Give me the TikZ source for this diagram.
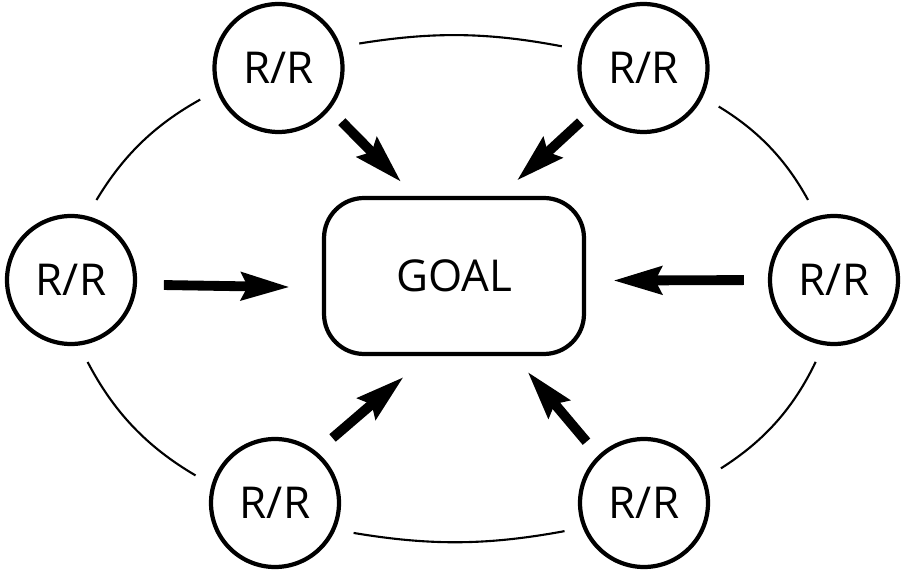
\documentclass[tikz,border=0pt]{standalone}
\usepackage{fontspec}
\setmainfont{Open Sans}
\usepackage{tikz}
\usetikzlibrary{arrows.meta}
\tikzstyle{member} = [circle, minimum size=2.56cm, inner sep=0pt, line width=2.4pt, draw=black, font=\fontsize{25}{30}\selectfont]
\tikzstyle{goalbox} = [rectangle, rounded corners=0.8cm, minimum width=5.2cm, minimum height=3.12cm, line width=2.4pt, text centered, draw=black, font=\fontsize{25}{30}\selectfont]
\tikzstyle{arrow} = [line width=5.6pt, -{Stealth[length=0.96cm, width=0.54cm, inset=0.12cm]}]
\tikzstyle{link} = [line width=1.2pt, shorten <=0.37cm, shorten >=0.37cm]

\begin{document}
\begin{tikzpicture}[x=0.02cm, y=0.02cm]
\useasboundingbox (0,0) rectangle (901,571);

\node (goal) [goalbox] at (454,295) {GOAL};

\node (tl) [member] at (278.5,503) {R/R};
\node (tr) [member] at (643.5,503) {R/R};
\node (l) [member] at (71,291) {R/R};
\node (r) [member] at (834,291) {R/R};
\node (bl) [member] at (275,68) {R/R};
\node (br) [member] at (644,68) {R/R};

% ring
\draw [link] (tr.164) to[bend right=10] (tl.19);
\draw [link] (tl.200) to[bend right=15] (l.76);
\draw [link] (l.277) to[bend right=16] (bl.164);
\draw [link] (bl.336) to[bend right=10] (br.202);
\draw [link] (br.22) to[bend right=16] (r.261);
\draw [link] (r.105) to[bend right=15] (tr.334);

% arrows to the goal
\draw [arrow, shorten <=0.34cm, shorten >=0.39cm] (tl.-39) -- (goal.116);
\draw [arrow, shorten <=0.34cm, shorten >=0.45cm] (tr.220) -- (goal.60);
\draw [arrow, shorten <=0.54cm, shorten >=0.64cm] (l.-4) -- (goal.185);
\draw [arrow, shorten <=0.48cm, shorten >=0.54cm] (r.180) -- (goal.-2);
\draw [arrow, shorten <=0.42cm, shorten >=0.64cm] (bl.51) -- (goal.252);
\draw [arrow, shorten <=0.36cm, shorten >=0.41cm] (br.134) -- (goal.-53);
\end{tikzpicture}
\end{document}
